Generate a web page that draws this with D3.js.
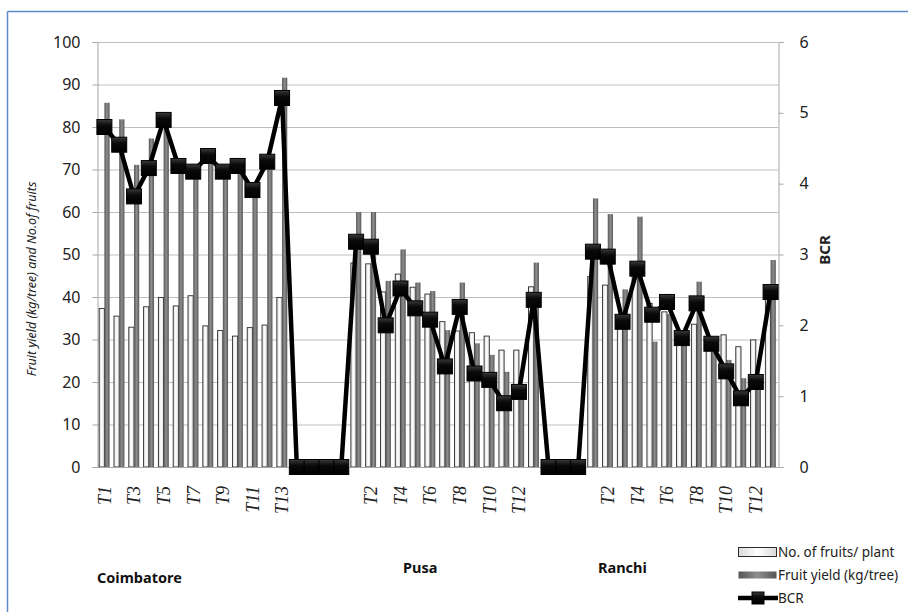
<!DOCTYPE html>
<html>
<head>
<meta charset="utf-8">
<script src="https://cdn.jsdelivr.net/npm/d3@7/dist/d3.min.js"></script>
<style>
  html, body { margin: 0; padding: 0; background: #fff; }
  svg { display: block; font-family: "Noto Sans", "Open Sans", sans-serif; }
</style>
</head>
<body>
<div id="chart"></div>
<script>
// values
const treatments = ['T1', 'T2', 'T3', 'T4', 'T5', 'T6', 'T7', 'T8', 'T9', 'T10', 'T11', 'T12', 'T13'];

const coimbatoreFruits = [37.3, 35.5, 32.9, 37.7, 39.9, 37.9, 40.3, 33.2, 32.1, 30.8, 32.8, 33.4, 39.9];
const coimbatoreYield = [85.7, 81.8, 71.1, 77.3, 80.5, 71.0, 69.5, 72.5, 69.5, 70.5, 65.0, 70.0, 91.6];
const coimbatoreBcr = [4.80, 4.55, 3.82, 4.22, 4.90, 4.25, 4.17, 4.39, 4.17, 4.25, 3.91, 4.31, 5.21];

const pusaFruits = [48.0, 47.8, 41.2, 45.4, 42.3, 40.7, 34.2, 32.0, 31.6, 30.8, 27.5, 27.5, 42.4];
const pusaYield = [60.0, 60.0, 43.8, 51.2, 43.4, 41.4, 32.2, 43.4, 29.1, 26.4, 22.4, 19.5, 48.1];
const pusaBcr = [3.18, 3.11, 2.00, 2.52, 2.24, 2.08, 1.42, 2.26, 1.32, 1.23, 0.90, 1.06, 2.36];

const ranchiFruits = [44.8, 42.8, 34.5, 46.0, 38.5, 36.5, 30.5, 33.6, 30.3, 31.1, 28.3, 29.9, 40.0];
const ranchiYield = [63.2, 59.5, 41.8, 58.9, 29.5, 36.0, 30.5, 43.6, 27.1, 25.2, 20.9, 19.8, 48.7];
const ranchiBcr = [3.04, 2.97, 2.05, 2.80, 2.15, 2.33, 1.82, 2.31, 1.74, 1.35, 0.97, 1.20, 2.47];

// empty slots between the locations, BCR plotted at zero
const gapBcrA = [0, 0, 0, 0];
const gapBcrB = [0, 0, 0];

const leftTicks = [0, 10, 20, 30, 40, 50, 60, 70, 80, 90, 100];
const rightTicks = [0, 1, 2, 3, 4, 5, 6];
const locations = ['Coimbatore', 'Pusa', 'Ranchi'];
const legendLabels = ['No. of fruits/ plant', 'Fruit yield (kg/tree)', 'BCR'];

const rows = [];
const addSite = (site, fruits, yieldKg, bcr) => {
  treatments.forEach((t, i) => {
    rows.push({ key: `${site}-${t}`, label: t, fruits: fruits[i], yieldKg: yieldKg[i], bcr: bcr[i] });
  });
};
const addGap = (name, bcr) => {
  bcr.forEach((v, i) => rows.push({ key: `${name}-${i}`, label: '', fruits: null, yieldKg: null, bcr: v }));
};
addSite('C', coimbatoreFruits, coimbatoreYield, coimbatoreBcr);
addGap('gapA', gapBcrA);
addSite('P', pusaFruits, pusaYield, pusaBcr);
addGap('gapB', gapBcrB);
addSite('R', ranchiFruits, ranchiYield, ranchiBcr);

const width = 908;
const height = 612;
const plot = { left: 97, right: 778, top: 42, bottom: 467 };

const svg = d3.select('#chart').append('svg').attr('width', width).attr('height', height);
const defs = svg.append('defs');

const grayGrad = defs.append('linearGradient').attr('id', 'gray-bar').attr('x1', '0%').attr('x2', '100%');
grayGrad.append('stop').attr('offset', '0%').attr('stop-color', '#555');
grayGrad.append('stop').attr('offset', '50%').attr('stop-color', '#8f8f8f');
grayGrad.append('stop').attr('offset', '100%').attr('stop-color', '#555');

const whiteGrad = defs.append('linearGradient').attr('id', 'white-bar').attr('x1', '0%').attr('x2', '100%');
whiteGrad.append('stop').attr('offset', '0%').attr('stop-color', '#d9d9d9');
whiteGrad.append('stop').attr('offset', '50%').attr('stop-color', '#ffffff');
whiteGrad.append('stop').attr('offset', '100%').attr('stop-color', '#d9d9d9');

const markGrad = defs.append('linearGradient').attr('id', 'marker-fill').attr('x1', '0%').attr('y1', '0%').attr('x2', '0%').attr('y2', '100%');
markGrad.append('stop').attr('offset', '0%').attr('stop-color', '#3a3a3a');
markGrad.append('stop').attr('offset', '40%').attr('stop-color', '#0a0a0a');
markGrad.append('stop').attr('offset', '100%').attr('stop-color', '#000');

// outer frame (only top and left edges fall inside the picture)
const frame = svg.append('g').attr('stroke', '#5b8bc9').attr('stroke-width', 1.5);
frame.append('line').attr('x1', 7.5).attr('x2', width).attr('y1', 11.5).attr('y2', 11.5);
frame.append('line').attr('x1', 7.5).attr('x2', 7.5).attr('y1', 11.5).attr('y2', height);

const x = d3.scaleBand().domain(rows.map((d) => d.key)).range([plot.left, plot.right]);
const sub = d3.scaleBand().domain(['fruits', 'yieldKg']).range([0, x.bandwidth()]).paddingOuter(0.42);
const yLeft = d3.scaleLinear().domain([0, 100]).range([plot.bottom, plot.top]);
const yRight = d3.scaleLinear().domain([0, 6]).range([plot.bottom, plot.top]);

// gridlines
svg.append('g')
  .selectAll('line')
  .data(leftTicks)
  .join('line')
  .attr('x1', plot.left).attr('x2', plot.right)
  .attr('y1', (d) => yLeft(d) + 0.5).attr('y2', (d) => yLeft(d) + 0.5)
  .attr('stroke', '#bfbfbf').attr('stroke-width', 1.2);

// left axis
const axisL = svg.append('g')
  .attr('transform', `translate(${plot.left + 0.5},0)`)
  .call(d3.axisLeft(yLeft).tickValues(leftTicks).tickSize(5).tickPadding(12));
axisL.select('.domain').attr('stroke', '#a6a6a6');
axisL.selectAll('.tick line').attr('stroke', '#a6a6a6');
axisL.selectAll('text').attr('font-size', 16).attr('fill', '#222').attr('font-family', '"Noto Sans", sans-serif');

// right axis
const axisR = svg.append('g')
  .attr('transform', `translate(${plot.right + 0.5},0)`)
  .call(d3.axisRight(yRight).tickValues(rightTicks).tickFormat(d3.format('d')).tickSize(5).tickPadding(16));
axisR.select('.domain').attr('stroke', '#a6a6a6');
axisR.selectAll('.tick line').attr('stroke', '#a6a6a6');
axisR.selectAll('text').attr('font-size', 16).attr('fill', '#222').attr('font-family', '"Noto Sans", sans-serif');

// bars
const bars = svg.append('g');
bars.selectAll('rect.fruits')
  .data(rows.filter((d) => d.fruits !== null))
  .join('rect')
  .attr('class', 'fruits')
  .attr('x', (d) => x(d.key) + sub('fruits'))
  .attr('y', (d) => yLeft(d.fruits))
  .attr('width', sub.bandwidth())
  .attr('height', (d) => plot.bottom - yLeft(d.fruits))
  .attr('fill', 'url(#white-bar)')
  .attr('stroke', '#2b2b2b').attr('stroke-width', 0.9);

bars.selectAll('rect.yield')
  .data(rows.filter((d) => d.yieldKg !== null))
  .join('rect')
  .attr('class', 'yield')
  .attr('x', (d) => x(d.key) + sub('yieldKg'))
  .attr('y', (d) => yLeft(d.yieldKg))
  .attr('width', sub.bandwidth())
  .attr('height', (d) => plot.bottom - yLeft(d.yieldKg))
  .attr('fill', 'url(#gray-bar)');

// x axis baseline
svg.append('line')
  .attr('x1', plot.left).attr('x2', plot.right)
  .attr('y1', plot.bottom + 0.5).attr('y2', plot.bottom + 0.5)
  .attr('stroke', '#a6a6a6');

// x labels, every second category
const axisX = svg.append('g')
  .attr('transform', `translate(0,${plot.bottom})`)
  .call(d3.axisBottom(x).tickSize(0).tickFormat((k, i) => (i % 2 === 0 ? rows[i].label : '')));
axisX.select('.domain').remove();
axisX.selectAll('text')
  .attr('transform', 'rotate(-90)')
  .attr('x', -19).attr('y', 0).attr('dy', '0.35em')
  .attr('text-anchor', 'end')
  .attr('font-family', '"Liberation Serif", "DejaVu Serif", serif')
  .attr('font-style', 'italic')
  .attr('font-size', 18)
  .attr('fill', '#222');

// BCR line
const cx = (d) => x(d.key) + x.bandwidth() / 2;
svg.append('path')
  .datum(rows)
  .attr('fill', 'none')
  .attr('stroke', '#000')
  .attr('stroke-width', 4.5)
  .attr('stroke-linejoin', 'miter')
  .attr('d', d3.line().x(cx).y((d) => yRight(d.bcr)));

const mk = 15;
svg.append('g')
  .selectAll('rect')
  .data(rows)
  .join('rect')
  .attr('x', (d) => cx(d) - mk / 2)
  .attr('y', (d) => yRight(d.bcr) - mk / 2)
  .attr('width', mk).attr('height', mk)
  .attr('fill', 'url(#marker-fill)')
  .attr('stroke', '#000').attr('stroke-width', 1);

// axis titles
svg.append('text')
  .attr('transform', 'translate(36,279) rotate(-90)')
  .attr('text-anchor', 'middle')
  .attr('font-size', 12.5)
  .attr('font-style', 'italic')
  .attr('fill', '#222')
  .text('Fruit yield (kg/tree) and No.of fruits');

svg.append('text')
  .attr('transform', 'translate(830,250) rotate(-90)')
  .attr('text-anchor', 'middle')
  .attr('font-size', 15)
  .attr('font-weight', 'bold')
  .attr('fill', '#222')
  .text('BCR');

// location labels
const locPos = [[97, 583], [403, 573], [598, 573]];
svg.append('g')
  .selectAll('text')
  .data(locations)
  .join('text')
  .attr('x', (d, i) => locPos[i][0])
  .attr('y', (d, i) => locPos[i][1])
  .attr('font-size', 14.5)
  .attr('font-weight', 'bold')
  .attr('fill', '#111')
  .text((d) => d);

// legend
const legend = svg.append('g').attr('transform', 'translate(738,552)');
legendLabels.forEach((label, i) => {
  const g = legend.append('g').attr('transform', `translate(0,${i * 23})`);
  if (i === 0) {
    g.append('rect').attr('x', 0.5).attr('y', -4.5).attr('width', 38).attr('height', 9)
      .attr('fill', 'url(#white-bar)').attr('stroke', '#2b2b2b').attr('stroke-width', 1);
  } else if (i === 1) {
    g.append('rect').attr('x', 0.5).attr('y', -3.5).attr('width', 38).attr('height', 7)
      .attr('fill', 'url(#gray-bar)');
  } else {
    g.append('line').attr('x1', 0).attr('x2', 40).attr('y1', 0).attr('y2', 0)
      .attr('stroke', '#000').attr('stroke-width', 4.5);
    g.append('rect').attr('x', 14).attr('y', -6).attr('width', 12).attr('height', 12)
      .attr('fill', 'url(#marker-fill)').attr('stroke', '#000');
  }
  g.append('text')
    .attr('x', 40).attr('y', 0).attr('dy', '0.35em')
    .attr('font-size', 13.5)
    .attr('fill', '#222')
    .text(label);
});
</script>
</body>
</html>
